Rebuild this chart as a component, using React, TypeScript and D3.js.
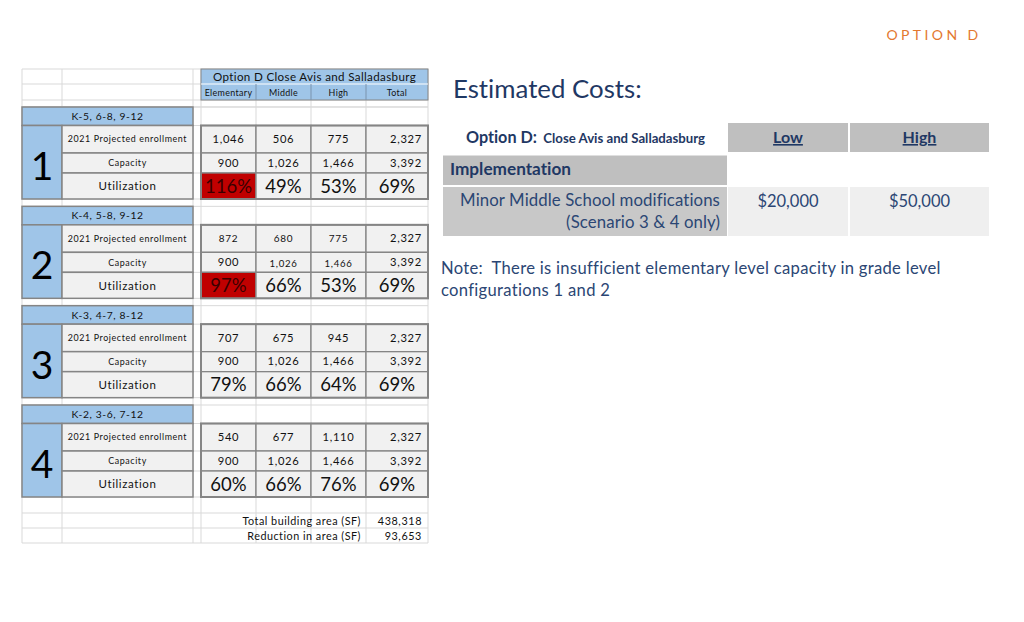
import React from "react";
import * as d3 from "d3";

// ---------- data ----------
const pageTag = "OPTION D";
const tableTitle = "Option D Close Avis and Salladasburg";
const levels = ["Elementary", "Middle", "High", "Total"];
const configNames = ["K-5, 6-8, 9-12", "K-4, 5-8, 9-12", "K-3, 4-7, 8-12", "K-2, 3-6, 7-12"];
const configIds = ["1", "2", "3", "4"];
const rowLabels = ["2021 Projected enrollment", "Capacity", "Utilization"];
const enrollment = [
  [1046, 506, 775, 2327],
  [872, 680, 775, 2327],
  [707, 675, 945, 2327],
  [540, 677, 1110, 2327],
];
const capacity = [
  [900, 1026, 1466, 3392],
  [900, 1026, 1466, 3392],
  [900, 1026, 1466, 3392],
  [900, 1026, 1466, 3392],
];
const utilization = [
  [116, 49, 53, 69],
  [97, 66, 53, 69],
  [79, 66, 64, 69],
  [60, 66, 76, 69],
];
const summaryLabels = ["Total building area (SF)", "Reduction in area (SF)"];
const summaryValues = [438318, 93653];

const costTitle = "Estimated Costs:";
const costOptionBold = "Option D:";
const costOptionRest = "Close Avis and Salladasburg";
const costColumns = ["Low", "High"];
const costSection = "Implementation";
const costItemLines = ["Minor Middle School modifications", "(Scenario 3 & 4 only)"];
const costLow = [20000];
const costHigh = [50000];
const noteLines = [
  "Note:  There is insufficient elementary level capacity in grade level",
  "configurations 1 and 2",
];

// ---------- style ----------
const FONT = "Lato, 'Open Sans', sans-serif";
const BLUE = "#9fc5e8";
const CELL = "#f1f1f1";
const BORDER = "#858585";
const GRID = "#d9d9d9";
const NAVY = "#1f3864";
const NAVY2 = "#2b4674";
const RED = "#c00000";

const fmt = d3.format(",");
const money = d3.format("$,");

export default function App() {
  const colLeft = d3.scaleOrdinal<string, number>().domain(levels).range([201, 256, 311, 366]);
  const colRight = d3.scaleOrdinal<string, number>().domain(levels).range([256, 311, 366, 428]);
  const blockY = d3.scaleLinear().domain([0, 3]).range([107, 405]);
  const rowOff = [
    [18.5, 46],
    [46, 66],
    [66, 92],
  ];
  const aX0 = 22, aX1 = 62, bX1 = 193;
  const tableX0 = colLeft(levels[0]);
  const tableX1 = colRight(levels[3]);

  const gridX = [aX0, aX1, bX1, tableX0, ...levels.map((l) => colRight(l))];
  const gridY: number[] = [69, 84, 100, 107];
  configNames.forEach((_, i) => {
    const t = blockY(i);
    gridY.push(t, t + 18.5, t + 46, t + 66, t + 92);
  });
  const lastEnd = blockY(3) + 92;
  gridY.push(lastEnd + 16, lastEnd + 31, lastEnd + 46);
  const gridBottom = lastEnd + 46;

  const values = [enrollment, capacity, utilization];

  const numFont = (bi: number, ri: number, ci: number) => {
    if (bi === 1 && ri === 0 && ci < 3) return 10;
    if (bi === 1 && ri === 1 && (ci === 1 || ci === 2)) return 9.6;
    return 11.2;
  };

  const cx = d3.scaleOrdinal<string, number>().domain(costColumns).range([728, 850]);
  const cw = d3.scaleOrdinal<string, number>().domain(costColumns).range([120, 139]);
  const costVals = [costLow, costHigh];

  return (
    <svg
      width={1024}
      height={622}
      style={{ position: "absolute", left: 0, top: 0, background: "#fff", fontVariantLigatures: "none" }}
      fontFamily={FONT}
    >
      <rect x={0} y={0} width={1024} height={622} fill="#fff" />
      <text x={934} y={40} textAnchor="middle" fontSize={14} fill="#e3782f" letterSpacing={3.4}>
        {pageTag}
      </text>

      {/* spreadsheet gridlines */}
      <g stroke={GRID} strokeWidth={1}>
        {gridX.map((x, i) => (
          <line key={"gx" + i} x1={x} x2={x} y1={69} y2={gridBottom} />
        ))}
        {gridY.map((y, i) => (
          <line key={"gy" + i} x1={aX0} x2={tableX1} y1={y} y2={y} />
        ))}
      </g>

      {/* top header */}
      <rect x={tableX0} y={69} width={tableX1 - tableX0} height={31} fill={BLUE} stroke={BORDER} strokeWidth={1} />
      <line x1={tableX0} x2={tableX1} y1={84} y2={84} stroke="#ffffff" strokeWidth={1} />
      {levels.slice(1).map((l) => (
        <line key={"hs" + l} x1={colLeft(l)} x2={colLeft(l)} y1={84} y2={100} stroke="#7a93ad" strokeWidth={1} />
      ))}
      <text x={(tableX0 + tableX1) / 2} y={81} textAnchor="middle" fontSize={11.6} fill="#111" letterSpacing={0.35}>
        {tableTitle}
      </text>
      {levels.map((l) => (
        <text
          key={"hl" + l}
          x={(colLeft(l) + colRight(l)) / 2}
          y={95.5}
          textAnchor="middle"
          fontSize={8.9}
          fill="#111"
          letterSpacing={0.35}
        >
          {l}
        </text>
      ))}

      {/* blocks */}
      {configNames.map((name, bi) => {
        const t = blockY(bi);
        return (
          <g key={"b" + bi}>
            <rect x={aX0} y={t} width={bX1 - aX0} height={18.5} fill={BLUE} stroke={BORDER} strokeWidth={1.5} />
            <text x={(aX0 + bX1) / 2} y={t + 13} textAnchor="middle" fontSize={10.3} fill="#111" letterSpacing={0.6}>
              {name}
            </text>
            <rect x={aX0} y={t + 18.5} width={aX1 - aX0} height={92 - 18.5} fill={BLUE} stroke={BORDER} strokeWidth={1.5} />
            <text x={(aX0 + aX1) / 2} y={t + 73} textAnchor="middle" fontSize={39} fill="#000">
              {configIds[bi]}
            </text>
            {rowLabels.map((rl, ri) => {
              const [y0, y1] = rowOff[ri];
              return (
                <g key={"rl" + ri}>
                  <rect x={aX1} y={t + y0} width={bX1 - aX1} height={y1 - y0} fill={CELL} stroke={BORDER} strokeWidth={1.5} />
                  <text
                    x={(aX1 + bX1) / 2}
                    y={t + (y0 + y1) / 2 + (ri === 2 ? 4.2 : 3.2)}
                    textAnchor="middle"
                    fontSize={ri === 2 ? 11.5 : 8.9}
                    fill="#111"
                    letterSpacing={0.6}
                  >
                    {rl}
                  </text>
                </g>
              );
            })}
            {rowLabels.map((_, ri) => {
              const [y0, y1] = rowOff[ri];
              return levels.map((l, ci) => {
                const v = values[ri][bi][ci];
                const isPct = ri === 2;
                const red = isPct && ci === 0 && v >= 90;
                const xl = colLeft(l), xr = colRight(l);
                const right = !isPct && ci === 3;
                return (
                  <g key={"c" + ri + "-" + ci}>
                    <rect
                      x={xl}
                      y={t + y0}
                      width={xr - xl}
                      height={y1 - y0}
                      fill={red ? RED : CELL}
                      stroke={BORDER}
                      strokeWidth={1.3}
                    />
                    <text
                      x={right ? xr - 6 : (xl + xr) / 2}
                      y={t + (y0 + y1) / 2 + (isPct ? 6.8 : bi === 1 && ri === 1 && (ci === 1 || ci === 2) ? 5 : 3.8)}
                      textAnchor={right ? "end" : "middle"}
                      fontSize={isPct ? 18.5 : numFont(bi, ri, ci)}
                      fill={red ? "#3a0000" : "#111"}
                      letterSpacing={isPct ? 0 : 0.7}
                    >
                      {isPct ? v + "%" : fmt(v)}
                    </text>
                  </g>
                );
              });
            })}
            <rect
              x={tableX0}
              y={t + 18.5}
              width={tableX1 - tableX0}
              height={92 - 18.5}
              fill="none"
              stroke={BORDER}
              strokeWidth={2}
            />
          </g>
        );
      })}

      {/* summary */}
      {summaryLabels.map((s, i) => (
        <g key={"s" + i}>
          <text x={361} y={lastEnd + 27.5 + i * 15} textAnchor="end" fontSize={10.8} fill="#111" letterSpacing={0.5}>
            {s}
          </text>
          <text x={422} y={lastEnd + 27.5 + i * 15} textAnchor="end" fontSize={10.8} fill="#111" letterSpacing={0.6}>
            {fmt(summaryValues[i])}
          </text>
        </g>
      ))}

      {/* Estimated costs */}
      <text x={453} y={98} fontSize={25.8} fill={NAVY}>
        {costTitle}
      </text>

      <text x={585.5} y={143} textAnchor="middle" fill={NAVY} fontWeight="bold" style={{ whiteSpace: "pre" }}>
        <tspan fontSize={16.2}>{costOptionBold}</tspan>
        <tspan fontSize={13.2}>{"  " + costOptionRest}</tspan>
      </text>
      {costColumns.map((c) => (
        <g key={"cc" + c}>
          <rect x={cx(c)} y={123} width={cw(c)} height={29} fill="#bfbfbf" />
          <text
            x={cx(c) + cw(c) / 2}
            y={143}
            textAnchor="middle"
            fontSize={16}
            fontWeight="bold"
            fill={NAVY}
            textDecoration="underline"
          >
            {c}
          </text>
        </g>
      ))}
      <rect x={443} y={155.5} width={284} height={29.5} fill="#bfbfbf" />
      <text x={450} y={175} fontSize={17.2} fontWeight="bold" fill={NAVY}>
        {costSection}
      </text>
      <rect x={443} y={187} width={284} height={49} fill="#c8c8c8" />
      {costItemLines.map((ln, i) => (
        <text key={"ci" + i} x={720} y={206 + i * 22} textAnchor="end" fontSize={16.8} fill={NAVY2} letterSpacing={0.1}>
          {ln}
        </text>
      ))}
      {costColumns.map((c, k) => (
        <g key={"cv" + c}>
          <rect x={cx(c)} y={187} width={cw(c)} height={49} fill="#efefef" />
          <text x={cx(c) + cw(c) / 2} y={207} textAnchor="middle" fontSize={16.5} fill={NAVY2}>
            {money(costVals[k][0])}
          </text>
        </g>
      ))}

      {/* note */}
      {noteLines.map((ln, i) => (
        <text key={"n" + i} x={441} y={274 + i * 22} fontSize={16.6} fill={NAVY2} letterSpacing={0.3} style={{ whiteSpace: "pre" }}>
          {ln}
        </text>
      ))}
    </svg>
  );
}
